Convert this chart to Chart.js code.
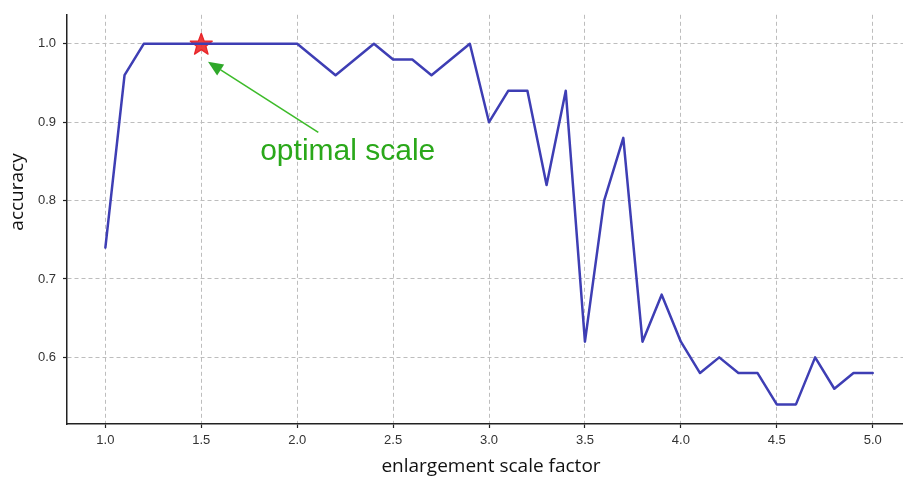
<!DOCTYPE html>
<html>
<head>
<meta charset="utf-8">
<script src="https://cdn.jsdelivr.net/npm/chart.js@4"></script>
<style>
html,body{margin:0;padding:0;background:#fff;overflow:hidden;}
canvas{display:block;}
</style>
</head>
<body>
<canvas id="c" width="903" height="479"></canvas>
<script>
const scaleFactors = [1.0,1.1,1.2,1.3,1.4,1.5,1.6,1.7,1.8,1.9,2.0,2.1,2.2,2.3,2.4,2.5,2.6,2.7,2.8,2.9,3.0,3.1,3.2,3.3,3.4,3.5,3.6,3.7,3.8,3.9,4.0,4.1,4.2,4.3,4.4,4.5,4.6,4.7,4.8,4.9,5.0];
const accuracy = [0.74,0.96,1.0,1.0,1.0,1.0,1.0,1.0,1.0,1.0,1.0,0.98,0.96,0.98,1.0,0.98,0.98,0.96,0.98,1.0,0.90,0.94,0.94,0.82,0.94,0.62,0.80,0.88,0.62,0.68,0.62,0.58,0.60,0.58,0.58,0.54,0.54,0.60,0.56,0.58,0.58];
const xTicks = [1.0,1.5,2.0,2.5,3.0,3.5,4.0,4.5,5.0];
const yTicks = [0.6,0.7,0.8,0.9,1.0];
const optimalPoint = {x: 1.5, y: 1.0};
const annotationText = "optimal scale";
const annotationTextPos = {x: 1.807, y: 0.852};
const arrowStart = {x: 2.11, y: 0.887};
const arrowTip = {x: 1.535, y: 0.977};
const xTitle = "enlargement scale factor";
const yTitle = "accuracy";

function drawStar(ctx, cx, cy, R, r) {
  ctx.beginPath();
  for (let i = 0; i < 10; i++) {
    const rad = i % 2 === 0 ? R : r;
    const a = -Math.PI / 2 + i * Math.PI / 5;
    const px = cx + rad * Math.cos(a), py = cy + rad * Math.sin(a);
    if (i === 0) ctx.moveTo(px, py); else ctx.lineTo(px, py);
  }
  ctx.closePath();
}

const overlay = {
  id: 'overlay',
  beforeDatasetsDraw(chart) {
    const ctx = chart.ctx, xs = chart.scales.x, ys = chart.scales.y;
    const cx = xs.getPixelForValue(optimalPoint.x), cy = ys.getPixelForValue(optimalPoint.y);
    ctx.save();
    drawStar(ctx, cx, cy + 1, 11.5, 4.8);
    ctx.fillStyle = 'rgba(238,45,45,0.92)';
    ctx.fill();
    ctx.lineWidth = 1.3;
    ctx.strokeStyle = '#e8262a';
    ctx.lineJoin = 'round';
    ctx.stroke();
    ctx.restore();
  },
  afterDraw(chart) {
    const ctx = chart.ctx, xs = chart.scales.x, ys = chart.scales.y;
    ctx.save();
    const x0 = xs.getPixelForValue(arrowStart.x), y0 = ys.getPixelForValue(arrowStart.y);
    const x1 = xs.getPixelForValue(arrowTip.x), y1 = ys.getPixelForValue(arrowTip.y);
    const ang = Math.atan2(y1 - y0, x1 - x0);
    const hl = 15, hw = 6.5;
    const bx = x1 - hl * Math.cos(ang), by = y1 - hl * Math.sin(ang);
    ctx.strokeStyle = '#3dbb2a';
    ctx.lineWidth = 1.6;
    ctx.beginPath(); ctx.moveTo(x0, y0); ctx.lineTo(bx, by); ctx.stroke();
    ctx.fillStyle = '#2fa82a';
    ctx.beginPath();
    ctx.moveTo(x1, y1);
    ctx.lineTo(bx + hw * Math.sin(ang), by - hw * Math.cos(ang));
    ctx.lineTo(bx - hw * Math.sin(ang), by + hw * Math.cos(ang));
    ctx.closePath(); ctx.fill();
    ctx.fillStyle = '#2aa81a';
    ctx.font = '30px "Liberation Sans", Arial, sans-serif';
    ctx.textAlign = 'left'; ctx.textBaseline = 'alphabetic';
    ctx.fillText(annotationText, xs.getPixelForValue(annotationTextPos.x), ys.getPixelForValue(annotationTextPos.y));
    ctx.fillStyle = '#111';
    ctx.font = '19px "Open Sans", "Noto Sans", sans-serif';
    ctx.textAlign = 'center'; ctx.textBaseline = 'middle';
    ctx.fillText(xTitle, 491, 467);
    ctx.translate(18, 192);
    ctx.rotate(-Math.PI / 2);
    ctx.fillText(yTitle, 0, 0);
    ctx.restore();
  }
};

new Chart(document.getElementById('c'), {
  type: 'line',
  data: {
    datasets: [{
      data: scaleFactors.map((x, i) => ({x, y: accuracy[i]})),
      borderColor: '#3e3eb4',
      borderWidth: 2.5,
      borderJoinStyle: 'round',
      borderCapStyle: 'round',
      pointRadius: 0,
      tension: 0,
      fill: false
    }]
  },
  options: {
    responsive: false,
    devicePixelRatio: 1,
    animation: false,
    layout: {padding: {top: 12, left: 0, right: 0, bottom: 0}},
    plugins: {legend: {display: false}, tooltip: {enabled: false}},
    scales: {
      x: {
        type: 'linear',
        min: 0.8,
        max: 5.158,
        afterBuildTicks: s => { s.ticks = xTicks.map(v => ({value: v})); },
        afterFit: s => { s.height = 55; },
        ticks: {
          callback: v => v.toFixed(1),
          color: '#333',
          font: {family: '"Liberation Sans", Arial, sans-serif', size: 13},
          padding: 5,
          maxRotation: 0,
          autoSkip: false
        },
        grid: {color: '#bdbdbd', lineWidth: 1, tickColor: '#222', tickLength: 4, tickWidth: 1.2},
        border: {display: true, color: '#222', width: 1.5, dash: [4, 3]}
      },
      y: {
        type: 'linear',
        min: 0.515,
        max: 1.037,
        afterBuildTicks: s => { s.ticks = yTicks.map(v => ({value: v})); },
        afterFit: s => { s.width = 67; },
        ticks: {
          callback: v => v.toFixed(1),
          color: '#333',
          font: {family: '"Liberation Sans", Arial, sans-serif', size: 13},
          padding: 7
        },
        grid: {color: '#bdbdbd', lineWidth: 1, tickColor: '#222', tickLength: 4, tickWidth: 1.2},
        border: {display: true, color: '#222', width: 1.5, dash: [4, 3]}
      }
    }
  },
  plugins: [overlay]
});
</script>
</body>
</html>
